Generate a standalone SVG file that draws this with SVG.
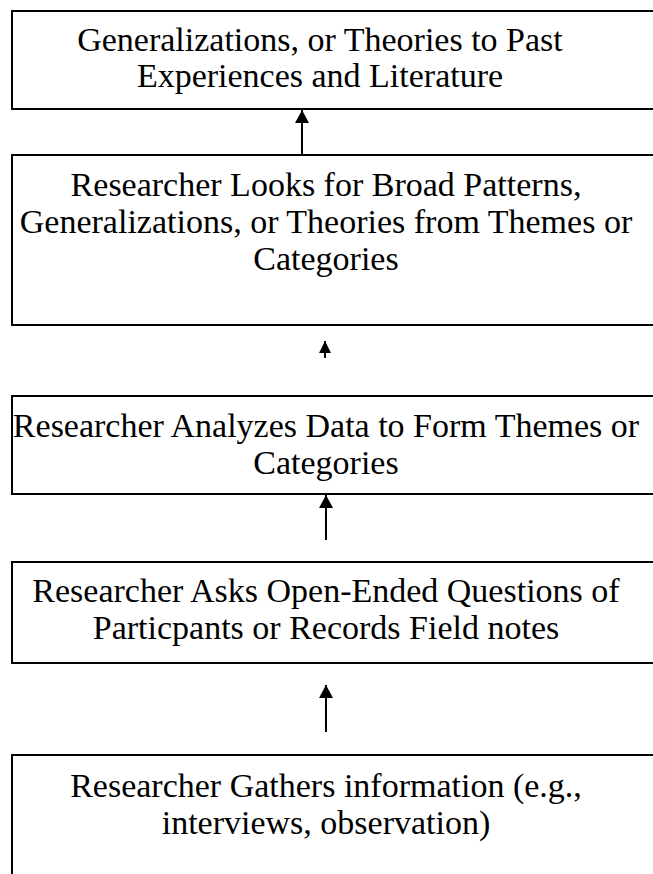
<svg xmlns="http://www.w3.org/2000/svg" width="653" height="874" viewBox="0 0 653 874">
<style>
.box{fill:#fff;stroke:#000;stroke-width:2}
.t{font-family:"Liberation Serif","Times New Roman",serif;font-size:34px;fill:#000;text-anchor:middle}
.c{stroke:#000;stroke-width:2;fill:none}
</style>
<defs>
<marker id="ah" markerWidth="12" markerHeight="12" refX="12" refY="6" orient="auto" markerUnits="userSpaceOnUse" viewBox="0 0 12 12">
<path d="M0,0 L12,6 L0,12 Z" fill="#000"/>
</marker>
<marker id="ah2" markerWidth="13" markerHeight="14" refX="13" refY="7" orient="auto" markerUnits="userSpaceOnUse" viewBox="0 0 13 14">
<path d="M0,0 L13,7 L0,14 Z" fill="#000"/>
</marker>
</defs>
<rect width="653" height="874" fill="#fff"/>
<g id="n1"><rect class="box" x="12" y="11" width="660" height="98"/>
<text class="t" x="320" y="51">Generalizations, or Theories to Past</text>
<text class="t" x="320" y="87">Experiences and Literature</text></g>
<g id="n2"><rect class="box" x="12" y="155" width="660" height="170"/>
<text class="t" x="326" y="196">Researcher Looks for Broad Patterns,</text>
<text class="t" x="326" y="233">Generalizations, or Theories from Themes or</text>
<text class="t" x="326" y="270">Categories</text></g>
<g id="n3"><rect class="box" x="12" y="396" width="660" height="98"/>
<text class="t" x="326" y="437">Researcher Analyzes Data to Form Themes or</text>
<text class="t" x="326" y="474">Categories</text></g>
<g id="n4"><rect class="box" x="12" y="562" width="660" height="101"/>
<text class="t" x="326" y="602">Researcher Asks Open-Ended Questions of</text>
<text class="t" x="326" y="639">Particpants or Records Field notes</text></g>
<g id="n5"><path class="box" d="M12,880 V755 H672"/>
<text class="t" x="326" y="797">Researcher Gathers information (e.g.,</text>
<text class="t" x="326" y="834">interviews, observation)</text></g>
<g id="connectors">
<line class="c" x1="302" y1="154" x2="302" y2="110" marker-end="url(#ah2)"/>
<line class="c" x1="325" y1="358" x2="325" y2="341" marker-end="url(#ah)"/>
<line class="c" x1="326" y1="540" x2="326" y2="495" marker-end="url(#ah2)"/>
<line class="c" x1="326" y1="732" x2="326" y2="685" marker-end="url(#ah2)"/>
</g>
</svg>
